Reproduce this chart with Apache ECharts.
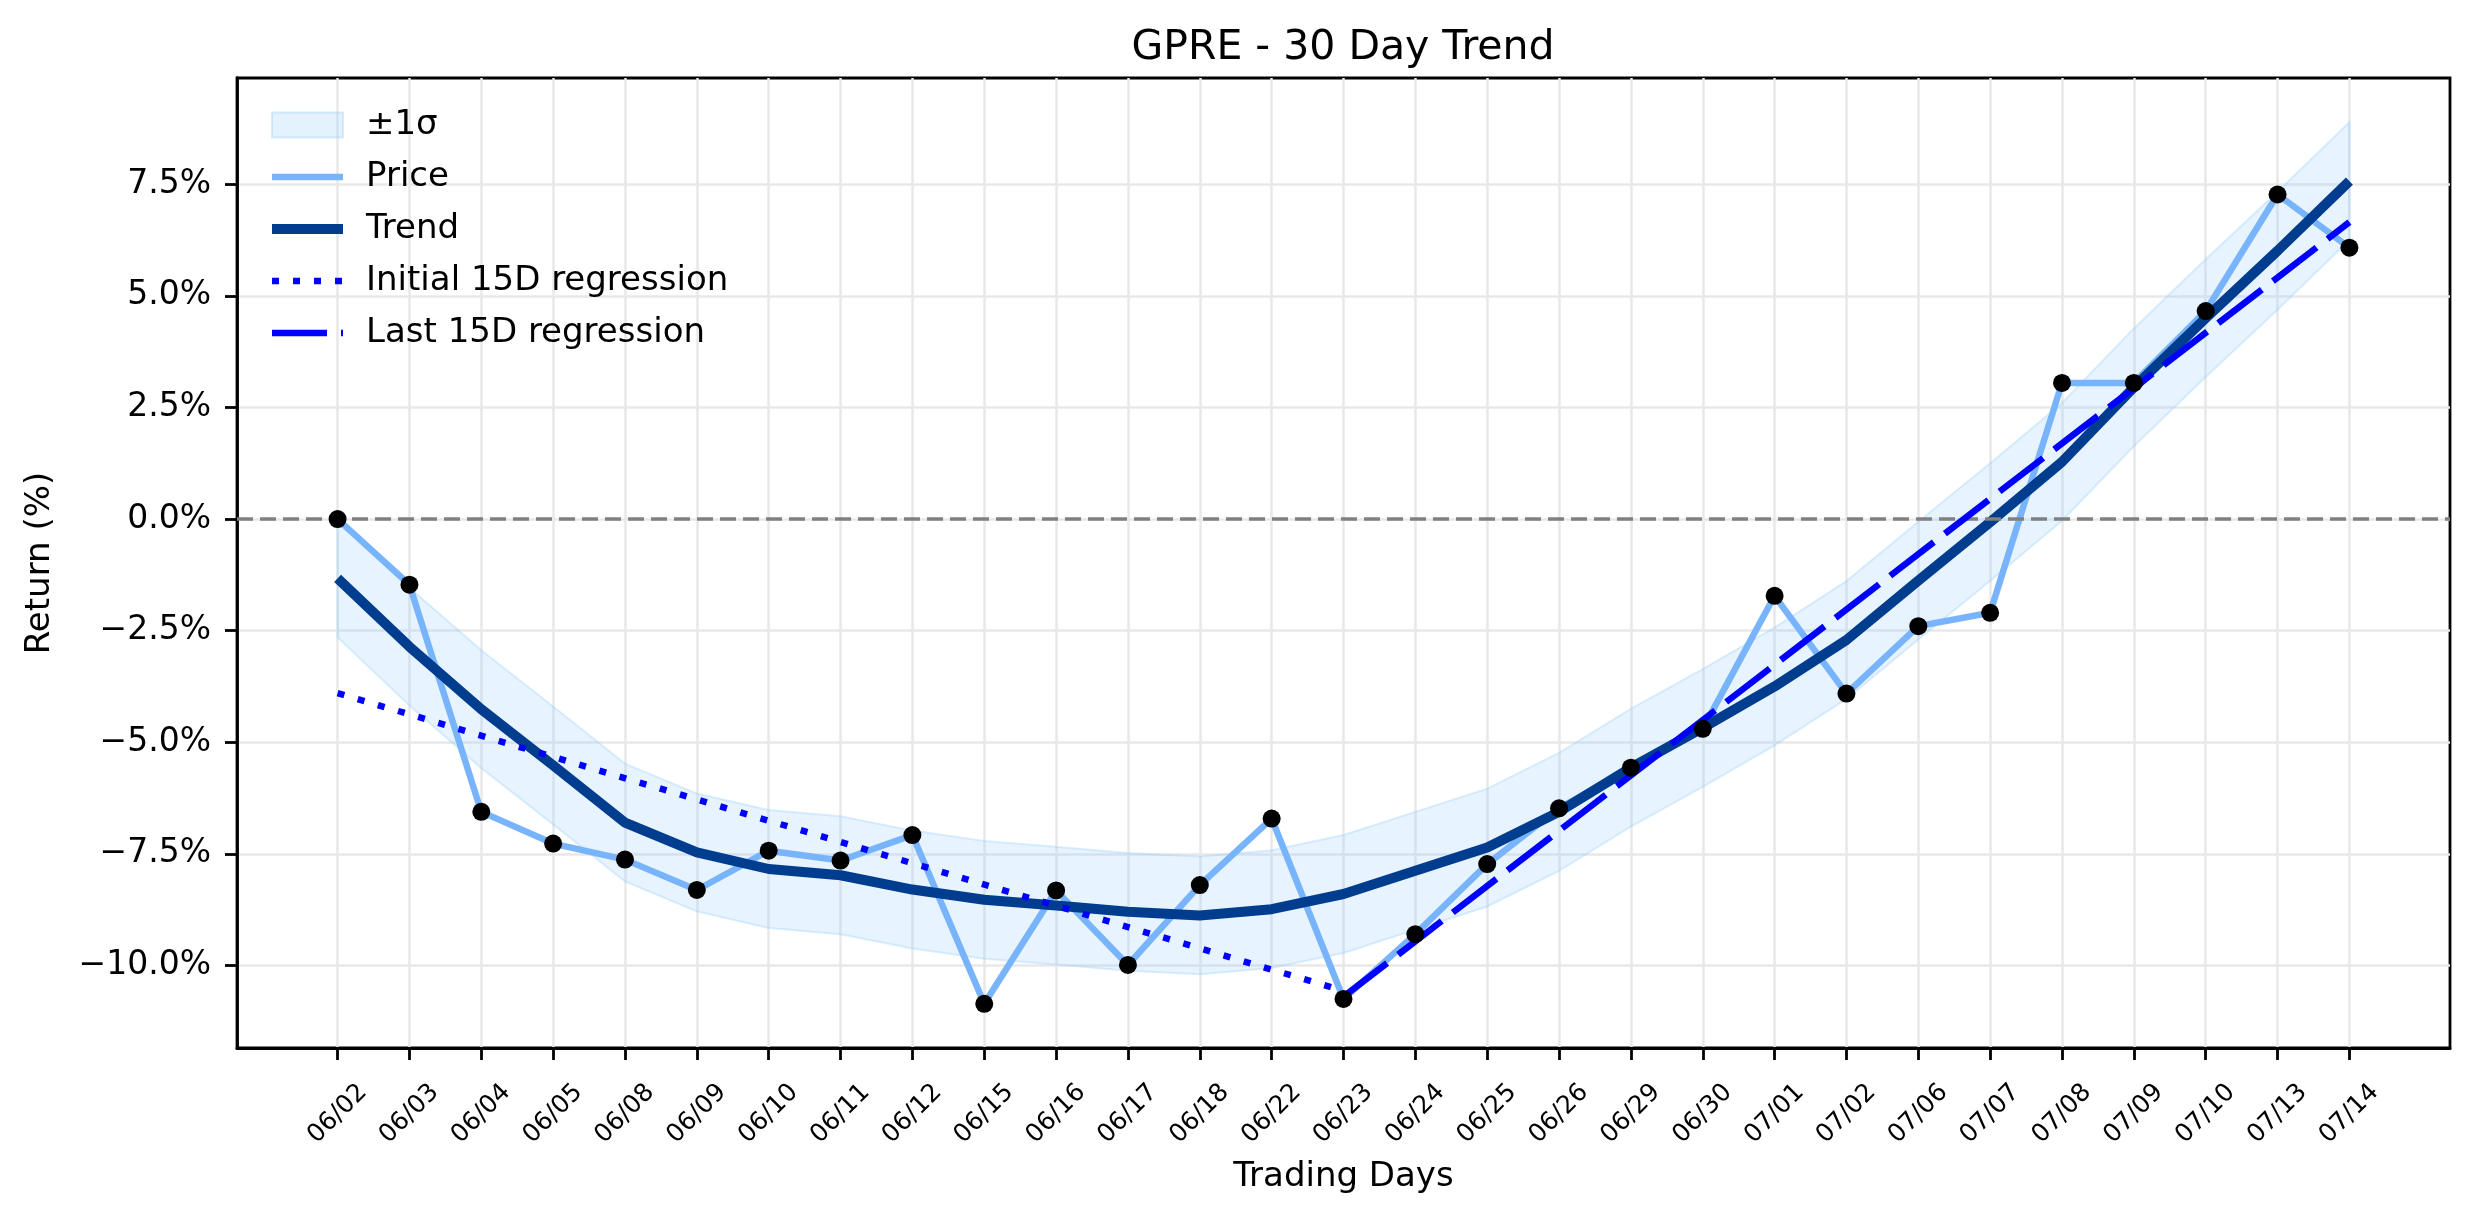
<!DOCTYPE html>
<html>
<head>
<meta charset="utf-8">
<script src="https://cdn.jsdelivr.net/npm/echarts@6/dist/echarts.min.js"></script>
<style>
  html, body { margin: 0; padding: 0; background: #fff; }
  #chart { width: 2475px; height: 1224px; }
</style>
</head>
<body>
<div id="chart"></div>
<script>
// trading days on the x axis
const days = ['06/02', '06/03', '06/04', '06/05', '06/08', '06/09', '06/10', '06/11', '06/12', '06/15',
  '06/16', '06/17', '06/18', '06/22', '06/23', '06/24', '06/25', '06/26', '06/29', '06/30',
  '07/01', '07/02', '07/06', '07/07', '07/08', '07/09', '07/10', '07/13', '07/14']

// return in %
const price = [0.00, -1.47, -6.56, -7.27, -7.63, -8.31, -7.43, -7.65, -7.08, -10.86,
  -8.32, -9.99, -8.20, -6.71, -10.75, -9.30, -7.73, -6.48, -5.57, -4.70,
  -1.72, -3.91, -2.40, -2.10, 3.05, 3.05, 4.66, 7.27, 6.08]

const trend = [-1.33, -2.86, -4.26, -5.52, -6.80, -7.47, -7.84, -7.98, -8.30, -8.53,
  -8.66, -8.80, -8.88, -8.74, -8.40, -7.88, -7.36, -6.56, -5.57, -4.68,
  -3.75, -2.71, -1.38, -0.07, 1.28, 2.95, 4.50, 6.01, 7.57]

// +-1 sigma band around the trend
const bandUpper = [-0.01, -1.54, -2.94, -4.20, -5.48, -6.15, -6.52, -6.66, -6.98, -7.21,
  -7.34, -7.48, -7.56, -7.42, -7.08, -6.56, -6.04, -5.24, -4.25, -3.36,
  -2.43, -1.39, -0.06, 1.25, 2.60, 4.27, 5.82, 7.33, 8.89]
const bandLower = [-2.65, -4.18, -5.58, -6.84, -8.12, -8.79, -9.16, -9.30, -9.62, -9.85,
  -9.98, -10.12, -10.20, -10.06, -9.72, -9.20, -8.68, -7.88, -6.89, -6.00,
  -5.07, -4.03, -2.70, -1.39, -0.04, 1.63, 3.18, 4.69, 6.25]

// regression lines: [day index, value] at both ends
const initialReg = [[0, -3.90], [14, -10.57]]
const lastReg = [[14, -10.70], [28, 6.65]]

const yTicks = [-10, -7.5, -5, -2.5, 0, 2.5, 5, 7.5]

const FONT = 'DejaVu Sans'
const dayIdx = days.map((d, i) => i)
const pairs = arr => arr.map((v, i) => [i, v])

// legend entry for a plain line, no marker dot
const lineItem = name => ({ name, itemStyle: { color: 'rgba(0,0,0,0)', borderWidth: 0 } })

const chart = echarts.init(document.getElementById('chart'))

chart.setOption({
  animation: false,
  backgroundColor: '#fff',
  textStyle: { fontFamily: FONT, color: '#000' },
  title: {
    text: 'GPRE - 30 Day Trend',
    left: 1343,
    top: 28,
    textAlign: 'center',
    padding: 0,
    textStyle: { fontFamily: FONT, fontSize: 41, fontWeight: 'normal', color: '#000' }
  },
  legend: {
    orient: 'vertical',
    left: 267,
    top: 105,
    padding: 0,
    itemWidth: 71,
    itemHeight: 25,
    itemGap: 12,
    lineStyle: { width: 'inherit' },
    textStyle: { fontFamily: FONT, fontSize: 34, color: '#000', lineHeight: 40, padding: [0, 0, 0, 18] },
    data: [
      { name: '±1σ', icon: 'rect', itemStyle: { color: 'rgba(144,202,249,0.25)', borderColor: 'rgba(144,202,249,0.35)', borderWidth: 2 } },
      lineItem('Price'), lineItem('Trend'), lineItem('Initial 15D regression'), lineItem('Last 15D regression')
    ]
  },
  grid: {
    left: 237, top: 78, width: 2213, height: 970,
    show: true, borderColor: '#000', borderWidth: 2.8
  },
  xAxis: {
    type: 'value',
    min: -1.4,
    max: 29.4,
    name: 'Trading Days',
    nameLocation: 'middle',
    nameGap: 112,
    nameTextStyle: { fontFamily: FONT, fontSize: 34, color: '#000' },
    axisLine: { show: true, onZero: false, lineStyle: { color: '#000', width: 2.8 } },
    axisTick: { show: true, length: 12, lineStyle: { color: '#000', width: 2.8 }, customValues: dayIdx },
    axisLabel: {
      customValues: dayIdx,
      formatter: v => days[v] || '',
      rotate: 45,
      align: 'center',
      verticalAlign: 'middle',
      margin: 66,
      fontFamily: FONT,
      fontSize: 25,
      color: '#000'
    },
    splitLine: { show: true, lineStyle: { color: '#e8e8e8', width: 2.5 } }
  },
  yAxis: {
    type: 'value',
    min: -11.85,
    max: 9.88,
    name: 'Return (%)',
    nameLocation: 'middle',
    nameGap: 180,
    nameTextStyle: { fontFamily: FONT, fontSize: 34, color: '#000' },
    axisLine: { show: true, onZero: false, lineStyle: { color: '#000', width: 2.8 } },
    axisTick: { show: true, length: 12, lineStyle: { color: '#000', width: 2.8 }, customValues: yTicks },
    axisLabel: {
      customValues: yTicks,
      formatter: v => (v < 0 ? '\u2212' : '') + Math.abs(v).toFixed(1) + '%',
      margin: 26,
      fontFamily: FONT,
      fontSize: 33,
      color: '#000'
    },
    splitLine: { show: true, lineStyle: { color: '#e8e8e8', width: 2.5 } }
  },
  series: [
    {
      // sigma band drawn as one polygon through the axis scales
      name: '±1σ',
      type: 'custom',
      z: 1,
      itemStyle: { color: 'rgba(144,202,249,0.25)' },
      data: [[0, 0]],
      renderItem: (params, api) => {
        if (params.dataIndex !== 0) return null
        const pts = bandUpper.map((v, i) => api.coord([i, v]))
        for (let i = bandLower.length - 1; i >= 0; i--) pts.push(api.coord([i, bandLower[i]]))
        return {
          type: 'polygon',
          shape: { points: pts },
          style: { fill: 'rgba(144,202,249,0.22)', stroke: 'rgba(144,202,249,0.3)', lineWidth: 2 }
        }
      }
    },
    {
      name: 'Price',
      type: 'line',
      z: 3,
      symbol: 'none',
      data: pairs(price),
      lineStyle: { color: '#78b4fc', width: 6.5 },
      itemStyle: { color: '#78b4fc' },
      markLine: {
        silent: true,
        symbol: 'none',
        label: { show: false },
        lineStyle: { color: '#808080', type: [16, 7], width: 3.5 },
        data: [{ yAxis: 0 }]
      }
    },
    {
      name: 'Trend',
      type: 'line',
      z: 4,
      symbol: 'none',
      data: pairs(trend),
      lineStyle: { color: '#003d8f', width: 10 },
      itemStyle: { color: '#003d8f' }
    },
    {
      name: 'Initial 15D regression',
      type: 'line',
      z: 5,
      symbol: 'none',
      data: initialReg,
      lineStyle: { color: '#0000ff', width: 6.5, type: [7, 14] },
      itemStyle: { color: '#0000ff' }
    },
    {
      name: 'Last 15D regression',
      type: 'line',
      z: 5,
      symbol: 'none',
      data: lastReg,
      lineStyle: { color: '#0000ff', width: 6.5, type: [55, 14] },
      itemStyle: { color: '#0000ff' }
    },
    {
      name: 'points',
      type: 'scatter',
      z: 6,
      symbolSize: 18,
      data: pairs(price),
      itemStyle: { color: '#000', opacity: 1 }
    }
  ]
})
</script>
</body>
</html>
